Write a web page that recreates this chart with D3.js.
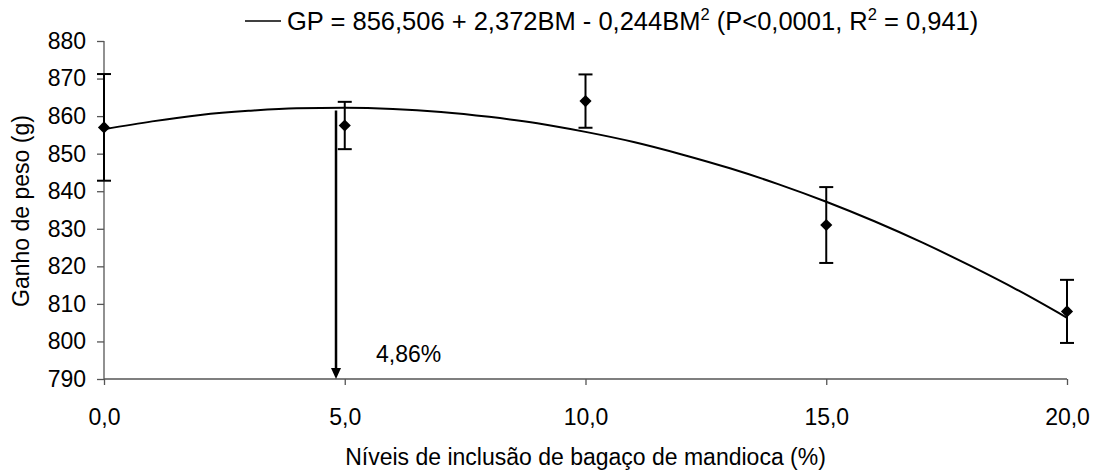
<!DOCTYPE html>
<html>
<head>
<meta charset="utf-8">
<script src="https://cdn.jsdelivr.net/npm/d3@7"></script>
<style>
  body { margin: 0; background: #fff; }
  text { font-family: "Liberation Sans", Arial, sans-serif; fill: #000; }
</style>
</head>
<body>
<div class="chart"></div>
<script>
// observed means and error bars
const levels = [0, 5, 10, 15, 20];
const means = [857.0, 857.5, 864.0, 831.0, 808.0];
const errors = [14.2, 6.3, 7.1, 10.1, 8.4];

// fitted curve at each unit of x
const curveX = [0, 1, 2, 3, 4, 5, 6, 7, 8, 9, 10, 11, 12, 13, 14, 15, 16, 17, 18, 19, 20];
const curveY = [856.5, 858.6, 860.3, 861.4, 862.1, 862.2, 861.9, 861.1, 859.8, 858.1, 855.8,
                853.1, 849.8, 846.1, 841.9, 837.2, 832.0, 826.3, 820.1, 813.5, 806.3];

const xTicks = [0, 5, 10, 15, 20];
const yTicks = [790, 800, 810, 820, 830, 840, 850, 860, 870, 880];

const optimum = 4.86;
const optimumTop = 861.5;

const width = 1099, height = 470;
const margin = {top: 41, right: 32, bottom: 91, left: 104};

const svg = d3.select(".chart").append("svg")
    .attr("width", width)
    .attr("height", height);

const x = d3.scaleLinear()
    .domain([0, 20])
    .range([margin.left, width - margin.right]);

const y = d3.scaleLinear()
    .domain([790, 880])
    .range([height - margin.bottom, margin.top]);

const fmt = d => d3.format(".1f")(d).replace(".", ",");

// y axis
const yAxis = svg.append("g")
    .attr("transform", `translate(${margin.left},0)`)
    .call(d3.axisLeft(y).tickValues(yTicks).tickSize(7).tickPadding(11).tickFormat(d3.format("d")));

// x axis
const xAxis = svg.append("g")
    .attr("transform", `translate(0,${y(790)})`)
    .call(d3.axisBottom(x).tickValues(xTicks).tickSize(6).tickPadding(24).tickFormat(fmt));

[xAxis, yAxis].forEach(a => {
    a.select(".domain").attr("stroke", "#555").attr("stroke-width", 1.3);
    a.selectAll(".tick line").attr("stroke", "#555").attr("stroke-width", 1.3);
    a.selectAll(".tick text")
        .attr("font-family", "Liberation Sans, Arial, sans-serif")
        .attr("font-size", 23)
        .attr("fill", "#000");
});
xAxis.select(".domain").attr("d", `M${x(0)},0H${x(20)}`);
yAxis.select(".domain").attr("d", `M0,${y(790)}V${y(880)}`);

// fitted curve
const line = d3.line()
    .x((d, i) => x(curveX[i]))
    .y(d => y(d))
    .curve(d3.curveMonotoneX);

svg.append("path")
    .datum(curveY)
    .attr("fill", "none")
    .attr("stroke", "#000")
    .attr("stroke-width", 2)
    .attr("d", line);

// error bars
const pts = levels.map((l, i) => ({x: l, m: means[i], e: errors[i]}));
const eb = svg.append("g").attr("stroke", "#000").attr("stroke-width", 2);

eb.selectAll("line.v")
    .data(pts)
    .join("line")
    .attr("class", "v")
    .attr("x1", d => x(d.x)).attr("x2", d => x(d.x))
    .attr("y1", d => y(d.m - d.e)).attr("y2", d => y(d.m + d.e));

eb.selectAll("line.cap")
    .data(pts.flatMap(d => [{x: d.x, v: d.m - d.e}, {x: d.x, v: d.m + d.e}]))
    .join("line")
    .attr("class", "cap")
    .attr("x1", d => x(d.x) - 7).attr("x2", d => x(d.x) + 7)
    .attr("y1", d => y(d.v)).attr("y2", d => y(d.v));

// diamonds
svg.selectAll("path.pt")
    .data(pts)
    .join("path")
    .attr("class", "pt")
    .attr("d", d3.symbol(d3.symbolSquare, 74))
    .attr("fill", "#000")
    .attr("transform", d => `translate(${x(d.x)},${y(d.m)}) rotate(45)`);

// arrow at optimum
svg.append("line")
    .attr("x1", x(optimum) - 2).attr("x2", x(optimum) - 2)
    .attr("y1", y(optimumTop)).attr("y2", y(790) - 8)
    .attr("stroke", "#000")
    .attr("stroke-width", 2.5);

svg.append("path")
    .attr("d", `M${x(optimum) - 7},${y(790) - 11}L${x(optimum) + 3},${y(790) - 11}L${x(optimum) - 2},${y(790)}Z`)
    .attr("fill", "#000");

svg.append("text")
    .attr("x", x(optimum) + 38)
    .attr("y", y(790) - 17)
    .attr("font-size", 23)
    .text("4,86%");

// equation legend
svg.append("line")
    .attr("x1", 245).attr("x2", 281)
    .attr("y1", 21).attr("y2", 21)
    .attr("stroke", "#000").attr("stroke-width", 1.5);

const eq = svg.append("text")
    .attr("x", 287)
    .attr("y", 30)
    .attr("font-size", 25.5);
eq.append("tspan").text("GP = 856,506 + 2,372BM - 0,244BM");
eq.append("tspan").attr("font-size", 16.5).attr("dy", -10).text("2");
eq.append("tspan").attr("dy", 10).text(" (P<0,0001, R");
eq.append("tspan").attr("font-size", 16.5).attr("dy", -10).text("2");
eq.append("tspan").attr("dy", 10).text(" = 0,941)");

// axis titles
svg.append("text")
    .attr("x", (x(0) + x(20)) / 2)
    .attr("y", 465)
    .attr("text-anchor", "middle")
    .attr("font-size", 23)
    .text("Níveis de inclusão de bagaço de mandioca (%)");

svg.append("text")
    .attr("transform", "translate(29,211) rotate(-90)")
    .attr("text-anchor", "middle")
    .attr("font-size", 23)
    .text("Ganho de peso (g)");
</script>
</body>
</html>
